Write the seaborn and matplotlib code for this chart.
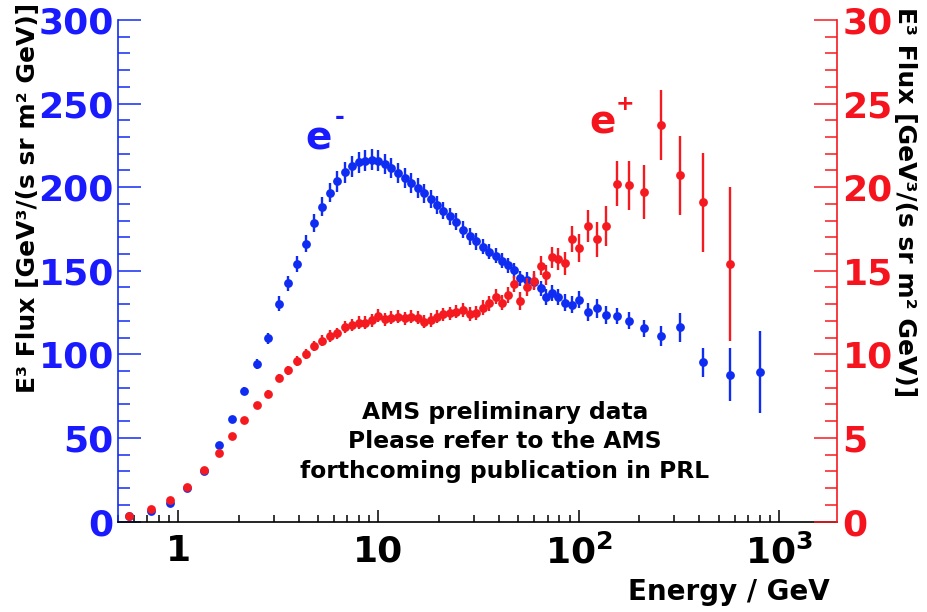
import numpy as np
import pandas as pd
import matplotlib
matplotlib.use("Agg")
import matplotlib.pyplot as plt
import seaborn as sns
from matplotlib.ticker import FixedLocator, MultipleLocator, LogLocator, NullFormatter, FixedFormatter

# ---------------- data ----------------
energy_e = [0.57, 0.73, 0.91, 1.10, 1.34, 1.59, 1.86, 2.14, 2.47, 2.81,
            3.17, 3.54, 3.92, 4.32, 4.74, 5.2, 5.7, 6.2, 6.8, 7.4,
            7.96, 8.6, 9.3, 10.0,
            10.8, 11.6, 12.5, 13.5, 14.6, 15.7, 16.9, 18.2, 19.6, 21.1,
            22.7, 24.5, 26.4, 28.5, 30.8, 33.2, 35.8, 38.5, 41.3, 44.3,
            47.4, 51, 55, 59.5, 64.5, 69, 73.5, 79, 85.5, 92.5,
            100.5, 111, 123, 137, 155, 178, 211, 257, 320, 418,
            570, 800]
flux_e = [3.2, 6.2, 10.8, 20.2, 30.5, 45.5, 61.1, 78.0, 94.4, 109.6,
          130.4, 142.4, 154.3, 166.3, 178.4, 188.4, 196.8, 203.4, 208.8, 212.4,
          214.8, 215.7, 216.3, 215.7,
          213.8, 211.5, 208.5, 205.5, 202.5, 199.5, 196.3, 193.0, 189.5, 186.0,
          182.5, 179.3, 174.5, 170.5, 167.5, 164.5, 161.5, 159.0, 156.0, 153.4,
          150.4, 145.5, 144.5, 143.5, 139.5, 134.5, 136.5, 134.4, 130.8, 129.8,
          132.8, 125.5, 127.5, 123.5, 122.9, 120.1, 115.5, 110.9, 116.1, 95.2,
          87.9, 89.7]
err_e = [0.6, 0.6, 0.7, 0.9, 1.1, 1.5, 2.0, 2.5, 3.0, 3.4,
         4.2, 4.5, 4.8, 5.0, 5.3, 5.6, 5.8, 6.0, 6.1, 6.2,
         6.3, 6.3, 6.3, 6.3,
         6.2, 6.1, 6.0, 5.9, 5.8, 5.7, 5.6, 5.5, 5.4, 5.3,
         5.2, 5.1, 5.0, 4.9, 4.8, 4.7, 4.6, 4.6, 4.5, 4.5,
         4.5, 4.5, 4.5, 4.6, 4.6, 4.7, 4.8, 4.9, 5.0, 5.1,
         5.2, 5.3, 5.5, 5.6, 5.0, 5.0, 5.2, 6.2, 8.5, 8.7,
         16.0, 24.5]

energy_p = [0.57, 0.73, 0.91, 1.10, 1.34, 1.59, 1.86, 2.14, 2.47, 2.81,
            3.17, 3.54, 3.92, 4.32, 4.74, 5.2, 5.7, 6.2, 6.8, 7.4,
            7.96, 8.6, 9.3, 10.0,
            10.8, 11.6, 12.5, 13.5, 14.6, 15.7, 16.9, 18.2, 19.6, 21.1,
            22.7, 24.5, 26.4, 28.5, 30.8, 33.2, 35.8, 38.5, 41.3, 44.3,
            47.4, 51, 55, 59.5, 64.5, 69, 73.5, 79, 85.5, 92.5,
            100.5, 111, 123, 137, 155, 178, 211, 257, 320, 418,
            570]
flux_p = [0.32, 0.72, 1.26, 2.04, 3.07, 4.07, 5.11, 6.05, 6.95, 7.63,
          8.6, 9.06, 9.62, 10.0, 10.5, 10.8, 11.1, 11.25, 11.65, 11.75,
          11.9, 11.9, 12.05, 12.3,
          12.1, 12.2, 12.25, 12.15, 12.25, 12.2, 11.95, 12.05, 12.25, 12.4,
          12.45, 12.55, 12.65, 12.4, 12.5, 12.8, 13.05, 13.45, 13.1, 13.55,
          14.2, 13.2, 14.0, 14.4, 15.3, 14.75, 15.8, 15.7, 15.45, 16.9,
          16.35, 17.67, 16.88, 17.67, 20.2, 20.1, 19.7, 23.7, 20.7, 19.1,
          15.4]
err_p = [0.03, 0.04, 0.06, 0.08, 0.10, 0.12, 0.15, 0.18, 0.20, 0.22,
         0.25, 0.27, 0.29, 0.30, 0.32, 0.33, 0.34, 0.35, 0.36, 0.37,
         0.38, 0.38, 0.39, 0.39,
         0.40, 0.40, 0.40, 0.40, 0.40, 0.40, 0.40, 0.40, 0.40, 0.40,
         0.40, 0.40, 0.41, 0.42, 0.42, 0.43, 0.44, 0.45, 0.46, 0.48,
         0.50, 0.52, 0.54, 0.56, 0.58, 0.60, 0.62, 0.65, 0.70, 0.78,
         0.85, 0.95, 1.05, 1.20, 1.35, 1.45, 1.60, 2.10, 2.35, 2.95,
         4.6]

y_left_ticks = [0, 50, 100, 150, 200, 250, 300]
y_right_ticks = [0, 5, 10, 15, 20, 25, 30]
x_ticks = [1, 10, 100, 1000]
x_tick_labels = ['1', '10', r'$\mathbf{10^{2}}$', r'$\mathbf{10^{3}}$']
y_label = 'E³ Flux [GeV³/(s sr m² GeV)]'
x_label = 'Energy / GeV'
note = 'AMS preliminary data\nPlease refer to the AMS\nforthcoming publication in PRL'

# ---------------- style ----------------
sns.set_theme(style='white')
plt.rcParams['font.family'] = ['DejaVu Sans']
plt.rcParams['font.weight'] = 'bold'
plt.rcParams['mathtext.fontset'] = 'dejavusans'

BLUE = '#0f2cf2'
BLUE_TXT = '#1a1aff'
RED = '#f51a1f'
RED_TXT = '#f5141e'

W, H = 927, 612
fig = plt.figure(figsize=(W / 100, H / 100), dpi=100)
fig.patch.set_facecolor('white')
ax = fig.add_axes([118 / W, 1 - 521.5 / H, 719 / W, 501.5 / H])
ax2 = ax.twinx()

df_e = pd.DataFrame({'E': energy_e, 'F': flux_e, 'err': err_e})
df_p = pd.DataFrame({'E': energy_p, 'F': flux_p, 'err': err_p})

ax.errorbar(df_e['E'], df_e['F'], yerr=df_e['err'], fmt='none',
            ecolor=BLUE, elinewidth=1.7, capsize=0, zorder=2)
sns.scatterplot(data=df_e, x='E', y='F', ax=ax, color=BLUE, s=40,
                linewidth=0, zorder=3, legend=False)

ax2.errorbar(df_p['E'], df_p['F'], yerr=df_p['err'], fmt='none',
             ecolor=RED, elinewidth=1.7, capsize=0, zorder=2)
sns.scatterplot(data=df_p, x='E', y='F', ax=ax2, color=RED, s=40,
                linewidth=0, zorder=3, legend=False)

ax.set_xscale('log')
ax.set_xlim(0.5, 1950)
ax.set_ylim(0, 300)
ax2.set_ylim(0, 30)
for a in (ax, ax2):
    a.set_xlabel('')
    a.set_ylabel('')
    a.set_facecolor('none')
    a.grid(False)

# spines
ax.spines['top'].set_visible(False)
ax.spines['right'].set_visible(False)
ax.spines['left'].set_color(BLUE)
ax.spines['left'].set_linewidth(1.2)
ax.spines['bottom'].set_color('black')
ax.spines['bottom'].set_linewidth(1.2)
for s in ('top', 'left', 'bottom'):
    ax2.spines[s].set_visible(False)
ax2.spines['right'].set_color(RED)
ax2.spines['right'].set_linewidth(1.2)

# ticks
ax.xaxis.set_major_locator(FixedLocator(x_ticks))
ax.xaxis.set_major_formatter(FixedFormatter(x_tick_labels))
ax.xaxis.set_minor_locator(LogLocator(base=10, subs=np.arange(2, 10)))
ax.xaxis.set_minor_formatter(NullFormatter())
ax.yaxis.set_major_locator(FixedLocator(y_left_ticks))
ax.yaxis.set_minor_locator(MultipleLocator(10))
ax2.yaxis.set_major_locator(FixedLocator(y_right_ticks))
ax2.yaxis.set_minor_locator(MultipleLocator(1))

ax.tick_params(axis='y', which='major', direction='in', length=16.5, width=1.1,
               color=BLUE, labelcolor=BLUE_TXT, labelsize=26, pad=3,
               left=True, right=False)
ax.tick_params(axis='y', which='minor', direction='in', length=8.6, width=1.1,
               color=BLUE, left=True, right=False)
ax.tick_params(axis='x', which='major', direction='in', length=8.6, width=1.1,
               color='black', labelcolor='black', labelsize=26, pad=9,
               bottom=True, top=False)
ax.tick_params(axis='x', which='minor', direction='in', length=5, width=1.1,
               color='black', bottom=True, top=False)
ax2.tick_params(axis='y', which='major', direction='in', length=16.5, width=1.1,
                color=RED, labelcolor=RED_TXT, labelsize=26, pad=4,
                right=True, left=False)
ax2.tick_params(axis='y', which='minor', direction='in', length=8.6, width=1.1,
                color=RED, right=True, left=False)
for lab in ax.get_yticklabels() + ax2.get_yticklabels() + ax.get_xticklabels():
    lab.set_fontweight('bold')

# axis titles
fig.text(28 / W, 1 - 198 / H, y_label, rotation=90, ha='center', va='center',
         fontsize=18, fontweight='bold', color='black')
fig.text(905 / W, 1 - 202 / H, y_label, rotation=270, ha='center', va='center',
         fontsize=18, fontweight='bold', color='black')
fig.text(830 / W, 1 - 600 / H, x_label, ha='right', va='baseline',
         fontsize=20, fontweight='bold', color='black')

# species labels
fig.text(305 / W, 1 - 150 / H, 'e', ha='left', va='baseline', fontsize=28,
         fontweight='bold', color=BLUE_TXT)
fig.text(340 / W, 1 - 117 / H, '-', ha='center', va='center', fontsize=17,
         fontweight='bold', color=BLUE_TXT)
fig.text(589 / W, 1 - 133 / H, 'e', ha='left', va='baseline', fontsize=28,
         fontweight='bold', color=RED_TXT)
fig.text(625 / W, 1 - 104 / H, '+', ha='center', va='center', fontsize=16,
         fontweight='bold', color=RED_TXT)

# note
fig.text(505 / W, 1 - 442 / H, note, ha='center', va='center',
         multialignment='center', fontsize=16.8, fontweight='bold',
         linespacing=1.37, color='black')

fig.savefig('out.png', dpi=100, facecolor='white')
